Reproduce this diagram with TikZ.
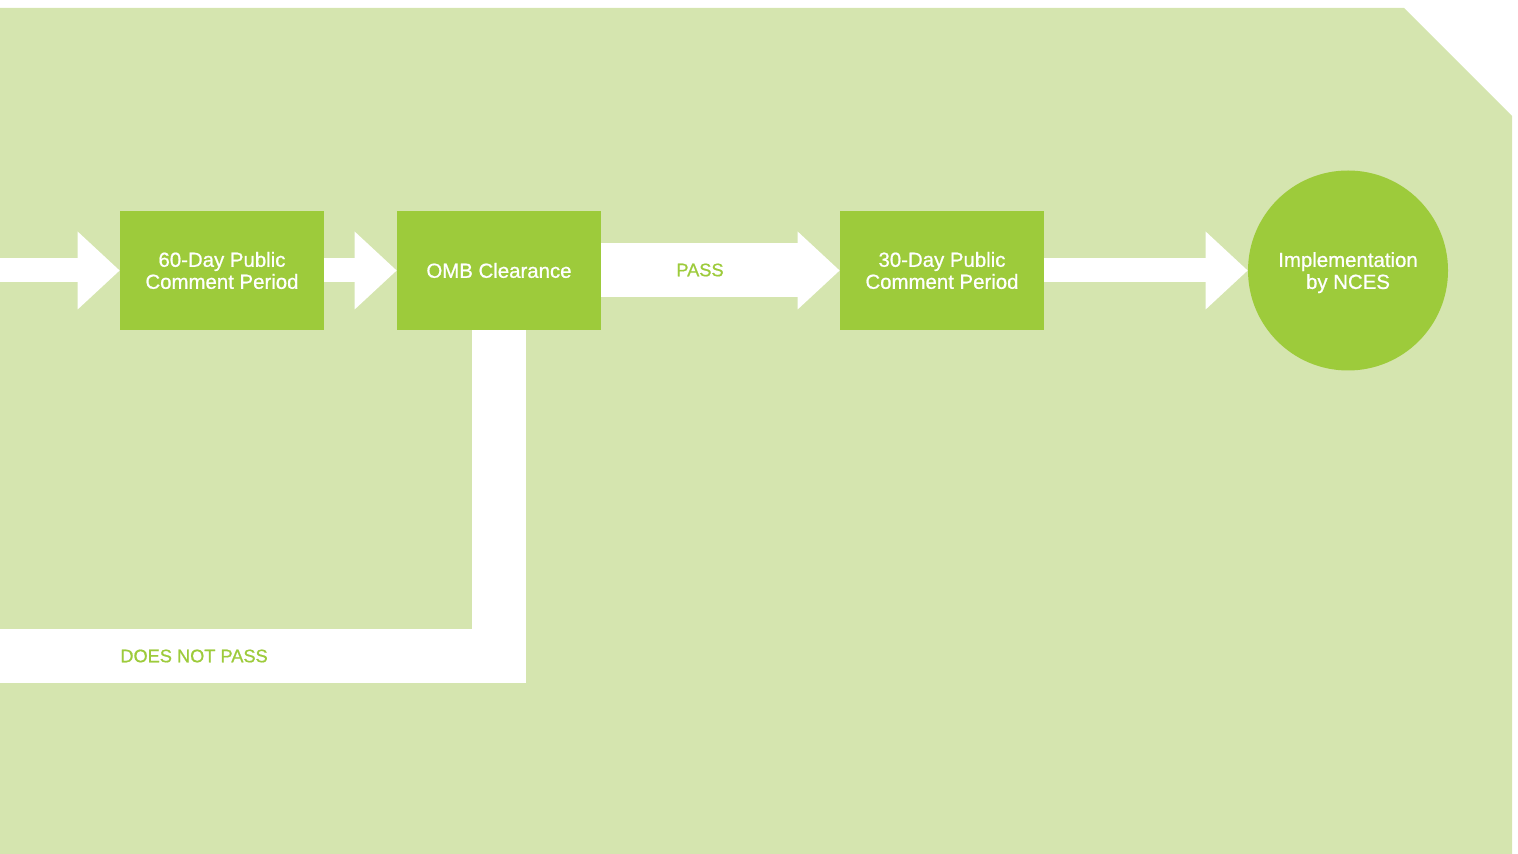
\documentclass[tikz,border=0pt]{standalone}
\usepackage{fontspec}
\setmainfont{Liberation Sans}[BoldFont=Liberation Sans,BoldFeatures={FakeBold=0.8}]
\usetikzlibrary{arrows.meta}
\definecolor{leaf}{RGB}{157,203,59}
\definecolor{pale}{RGB}{213,229,175}

\begin{document}
\begin{tikzpicture}[x=0.5pt,y=-0.5pt,font=\fontsize{10.2}{11}\selectfont\bfseries,
  stage/.style={fill=leaf,text=white,align=center,minimum width=102pt,minimum height=59.5pt,inner sep=0pt},
  flow/.style={draw=white,line width=12pt,-{Triangle[length=21pt,width=39pt,line width=0pt]}},
  lbl/.style={text=leaf,font=\fontsize{9.1}{11}\selectfont\bfseries}]
\useasboundingbox (0,0) rectangle (1518,854);
\fill[pale] (0,8) -- (1404,8) -- (1512,116) -- (1512,854) -- (0,854) -- cycle;
\node[stage] (d60) at (222,270.5) {60-Day Public\\Comment Period};
\node[stage] (omb) at (499,270.5) {OMB Clearance};
\node[stage] (d30) at (942,270.5) {30-Day Public\\Comment Period};
\node[stage,circle,minimum size=100pt,text depth=0pt] (nces) at (1348,270.5) {Implementation\\by NCES};
\coordinate (in) at (0,270.5);
\coordinate (back) at (0,656);
% main line
\draw[flow] (in) -- (d60.west);
\draw[flow] (d60.east) -- (omb.west);
\draw[flow,line width=27pt] (omb.east) -- (d30.west);
\draw[flow] (d30.east) -- (nces.west);
% rejected, back to the start
\draw[white,line width=27pt] (omb.south) |- (back);
\node[lbl] (pass) at (700,270) {PASS};
\node[lbl,anchor=west,inner sep=0pt] (fail) at (120,656) {DOES NOT PASS};
\end{tikzpicture}
\end{document}
